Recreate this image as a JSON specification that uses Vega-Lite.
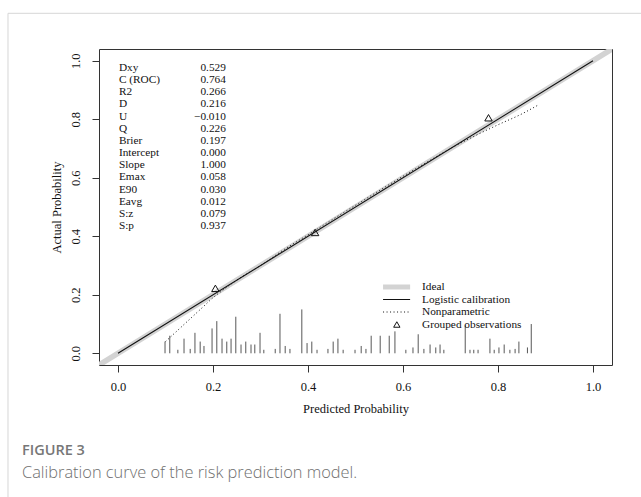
{
  "$schema": "https://vega.github.io/schema/vega-lite/v6.json",
  "autosize": "none",
  "width": 513,
  "height": 316,
  "padding": {"left": 99, "top": 49, "right": 29, "bottom": 132},
  "background": "white",
  "config": {
    "view": {"stroke": "#333333", "strokeWidth": 1},
    "font": "Liberation Serif"
  },
  "datasets": {
    "ideal": [{"x": -0.04, "y": -0.04}, {"x": 1.04, "y": 1.04}],
    "logistic": [{"x": 0.0, "y": 0.0}, {"x": 1.0, "y": 1.0}],
    "nonpar": [
      {"x": 0.10, "y": 0.04}, {"x": 0.12, "y": 0.07}, {"x": 0.14, "y": 0.10},
      {"x": 0.16, "y": 0.13}, {"x": 0.18, "y": 0.16}, {"x": 0.20, "y": 0.19},
      {"x": 0.22, "y": 0.215}, {"x": 0.25, "y": 0.25}, {"x": 0.30, "y": 0.30},
      {"x": 0.35, "y": 0.355}, {"x": 0.40, "y": 0.405}, {"x": 0.45, "y": 0.456},
      {"x": 0.50, "y": 0.506}, {"x": 0.55, "y": 0.556}, {"x": 0.60, "y": 0.605},
      {"x": 0.65, "y": 0.653}, {"x": 0.70, "y": 0.7}, {"x": 0.75, "y": 0.742},
      {"x": 0.80, "y": 0.781}, {"x": 0.85, "y": 0.818}, {"x": 0.884, "y": 0.848}
    ],
    "groups": [{"x": 0.205, "y": 0.222}, {"x": 0.415, "y": 0.413}, {"x": 0.78, "y": 0.805}],
    "spikes": [
      {"x": 0.099, "h": 0.04}, {"x": 0.109, "h": 0.06}, {"x": 0.126, "h": 0.012},
      {"x": 0.139, "h": 0.05}, {"x": 0.152, "h": 0.015}, {"x": 0.162, "h": 0.07},
      {"x": 0.173, "h": 0.04}, {"x": 0.181, "h": 0.025}, {"x": 0.198, "h": 0.085},
      {"x": 0.208, "h": 0.11}, {"x": 0.219, "h": 0.05}, {"x": 0.229, "h": 0.04},
      {"x": 0.238, "h": 0.05}, {"x": 0.248, "h": 0.125}, {"x": 0.259, "h": 0.03},
      {"x": 0.269, "h": 0.04}, {"x": 0.28, "h": 0.03}, {"x": 0.288, "h": 0.03},
      {"x": 0.299, "h": 0.07}, {"x": 0.307, "h": 0.012}, {"x": 0.331, "h": 0.015},
      {"x": 0.341, "h": 0.135}, {"x": 0.352, "h": 0.025}, {"x": 0.362, "h": 0.015},
      {"x": 0.387, "h": 0.15}, {"x": 0.398, "h": 0.035}, {"x": 0.408, "h": 0.04},
      {"x": 0.419, "h": 0.012}, {"x": 0.442, "h": 0.015}, {"x": 0.453, "h": 0.04},
      {"x": 0.463, "h": 0.05}, {"x": 0.474, "h": 0.012}, {"x": 0.499, "h": 0.012},
      {"x": 0.512, "h": 0.025}, {"x": 0.522, "h": 0.015}, {"x": 0.533, "h": 0.06},
      {"x": 0.552, "h": 0.06}, {"x": 0.571, "h": 0.06}, {"x": 0.583, "h": 0.075},
      {"x": 0.606, "h": 0.012}, {"x": 0.621, "h": 0.02}, {"x": 0.632, "h": 0.065},
      {"x": 0.644, "h": 0.015}, {"x": 0.657, "h": 0.03}, {"x": 0.669, "h": 0.02},
      {"x": 0.678, "h": 0.03}, {"x": 0.686, "h": 0.012}, {"x": 0.731, "h": 0.095},
      {"x": 0.741, "h": 0.012}, {"x": 0.749, "h": 0.012}, {"x": 0.758, "h": 0.012},
      {"x": 0.783, "h": 0.05}, {"x": 0.792, "h": 0.012}, {"x": 0.802, "h": 0.02},
      {"x": 0.813, "h": 0.03}, {"x": 0.825, "h": 0.012}, {"x": 0.836, "h": 0.015},
      {"x": 0.844, "h": 0.04}, {"x": 0.862, "h": 0.02}, {"x": 0.87, "h": 0.1}
    ],
    "stats": [
      {"rank": 1, "label": "Dxy", "value": "0.529"},
      {"rank": 2, "label": "C (ROC)", "value": "0.764"},
      {"rank": 3, "label": "R2", "value": "0.266"},
      {"rank": 4, "label": "D", "value": "0.216"},
      {"rank": 5, "label": "U", "value": "\u22120.010"},
      {"rank": 6, "label": "Q", "value": "0.226"},
      {"rank": 7, "label": "Brier", "value": "0.197"},
      {"rank": 8, "label": "Intercept", "value": "0.000"},
      {"rank": 9, "label": "Slope", "value": "1.000"},
      {"rank": 10, "label": "Emax", "value": "0.058"},
      {"rank": 11, "label": "E90", "value": "0.030"},
      {"rank": 12, "label": "Eavg", "value": "0.012"},
      {"rank": 13, "label": "S:z", "value": "0.079"},
      {"rank": 14, "label": "S:p", "value": "0.937"}
    ],
    "legend": [
      {"rank": 1, "label": "Ideal"},
      {"rank": 2, "label": "Logistic calibration"},
      {"rank": 3, "label": "Nonparametric"},
      {"rank": 4, "label": "Grouped observations"}
    ],
    "frame": [{"x": -0.2316, "x2": 1.25, "y": 1.162, "y2": -0.7}],
    "caption": [
      {"line": "FIGURE 3", "kind": "head"},
      {"line": "Calibration curve of the risk prediction model.", "kind": "body"}
    ]
  },
  "resolve": {"scale": {"y": "independent"}},
  "layer": [
    {
      "layer": [
        {
          "data": {"name": "frame"},
          "mark": {"type": "rect", "fill": null, "fillOpacity": 0, "stroke": "#d6d6d6", "strokeWidth": 1, "clip": false},
          "encoding": {
            "x": {"field": "x", "type": "quantitative", "scale": {"domain": [-0.04, 1.04], "nice": false, "zero": false},
              "axis": {"values": [0, 0.2, 0.4, 0.6, 0.8, 1.0], "format": ".1f", "title": "Predicted Probability", "grid": false, "domain": false,
                "tickColor": "#333333", "tickSize": 7, "labelPadding": 8, "labelFont": "Liberation Serif", "labelFontSize": 12.5, "labelColor": "#111111",
                "titleFont": "Liberation Serif", "titleFontSize": 12.5, "titleFontWeight": "normal", "titleColor": "#111111", "titlePadding": 10}},
            "x2": {"field": "x2"},
            "y": {"field": "y", "type": "quantitative", "scale": {"domain": [-0.04, 1.04], "nice": false, "zero": false},
              "axis": {"values": [0, 0.2, 0.4, 0.6, 0.8, 1.0], "format": ".1f", "title": "Actual Probability", "grid": false, "domain": false,
                "labelAngle": -90, "labelAlign": "center", "labelBaseline": "bottom",
                "tickColor": "#333333", "tickSize": 7, "labelPadding": 10, "labelFont": "Liberation Serif", "labelFontSize": 12.5, "labelColor": "#111111",
                "titleFont": "Liberation Serif", "titleFontSize": 12.5, "titleFontWeight": "normal", "titleColor": "#111111", "titlePadding": 6}},
            "y2": {"field": "y2"}
          }
        },
        {
          "data": {"name": "ideal"},
          "mark": {"type": "line", "stroke": "#d3d3d3", "strokeWidth": 5.5, "clip": true},
          "encoding": {"x": {"field": "x", "type": "quantitative"}, "y": {"field": "y", "type": "quantitative"}}
        },
        {
          "data": {"name": "spikes"},
          "mark": {"type": "rule", "stroke": "#444444", "strokeWidth": 0.9},
          "encoding": {
            "x": {"field": "x", "type": "quantitative"},
            "y": {"field": "h", "type": "quantitative"},
            "y2": {"datum": 0}
          }
        },
        {
          "data": {"name": "logistic"},
          "mark": {"type": "line", "stroke": "#111111", "strokeWidth": 1.1},
          "encoding": {"x": {"field": "x", "type": "quantitative"}, "y": {"field": "y", "type": "quantitative"}}
        },
        {
          "data": {"name": "nonpar"},
          "mark": {"type": "line", "stroke": "#111111", "strokeWidth": 1, "strokeDash": [1, 2.5], "interpolate": "monotone"},
          "encoding": {"x": {"field": "x", "type": "quantitative"}, "y": {"field": "y", "type": "quantitative"}}
        },
        {
          "data": {"name": "groups"},
          "mark": {"type": "point", "shape": "triangle-up", "filled": false, "stroke": "#111111", "strokeWidth": 1, "size": 55, "opacity": 1},
          "encoding": {"x": {"field": "x", "type": "quantitative"}, "y": {"field": "y", "type": "quantitative"}}
        },
        {
          "data": {"name": "caption"},
          "transform": [{"filter": "datum.kind == 'head'"}],
          "mark": {"type": "text", "align": "left", "baseline": "middle", "font": "Open Sans", "fontSize": 14.5, "fontWeight": 600, "color": "#777777", "clip": false},
          "encoding": {"x": {"datum": -0.2021, "type": "quantitative"}, "y": {"datum": -0.335, "type": "quantitative"}, "text": {"field": "line"}}
        },
        {
          "data": {"name": "caption"},
          "transform": [{"filter": "datum.kind == 'body'"}],
          "mark": {"type": "text", "align": "left", "baseline": "middle", "font": "Open Sans", "fontSize": 16.4, "fontWeight": 300, "color": "#6f6f6f", "clip": false},
          "encoding": {"x": {"datum": -0.2021, "type": "quantitative"}, "y": {"datum": -0.41, "type": "quantitative"}, "text": {"field": "line"}}
        }
      ]
    },
    {
      "data": {"name": "stats"},
      "encoding": {
        "y": {"field": "rank", "type": "ordinal", "axis": null, "scale": {"type": "point", "range": [19, 177], "padding": 0}}
      },
      "layer": [
        {
          "mark": {"type": "text", "align": "left", "baseline": "middle", "font": "Liberation Serif", "fontSize": 11.3, "color": "#111111"},
          "encoding": {"x": {"datum": 0.002, "type": "quantitative"}, "text": {"field": "label"}}
        },
        {
          "mark": {"type": "text", "align": "right", "baseline": "middle", "font": "Liberation Serif", "fontSize": 11.3, "color": "#111111"},
          "encoding": {"x": {"datum": 0.227, "type": "quantitative"}, "text": {"field": "value"}}
        }
      ]
    },
    {
      "data": {"name": "legend"},
      "encoding": {
        "y": {"field": "rank", "type": "ordinal", "axis": null, "scale": {"type": "point", "range": [238, 275.5], "padding": 0}}
      },
      "layer": [
        {
          "mark": {"type": "text", "align": "left", "baseline": "middle", "font": "Liberation Serif", "fontSize": 11.3, "color": "#111111"},
          "encoding": {"x": {"datum": 0.64, "type": "quantitative"}, "text": {"field": "label"}}
        },
        {
          "transform": [{"filter": "datum.rank == 1"}],
          "mark": {"type": "rule", "stroke": "#d3d3d3", "strokeWidth": 5},
          "encoding": {"x": {"datum": 0.558, "type": "quantitative"}, "x2": {"datum": 0.615}}
        },
        {
          "transform": [{"filter": "datum.rank == 2"}],
          "mark": {"type": "rule", "stroke": "#111111", "strokeWidth": 1},
          "encoding": {"x": {"datum": 0.558, "type": "quantitative"}, "x2": {"datum": 0.615}}
        },
        {
          "transform": [{"filter": "datum.rank == 3"}],
          "mark": {"type": "rule", "stroke": "#111111", "strokeWidth": 1, "strokeDash": [1, 2.5]},
          "encoding": {"x": {"datum": 0.558, "type": "quantitative"}, "x2": {"datum": 0.615}}
        },
        {
          "transform": [{"filter": "datum.rank == 4"}],
          "mark": {"type": "point", "shape": "triangle-up", "filled": false, "stroke": "#111111", "strokeWidth": 1, "size": 40, "opacity": 1},
          "encoding": {"x": {"datum": 0.587, "type": "quantitative"}}
        }
      ]
    }
  ]
}
